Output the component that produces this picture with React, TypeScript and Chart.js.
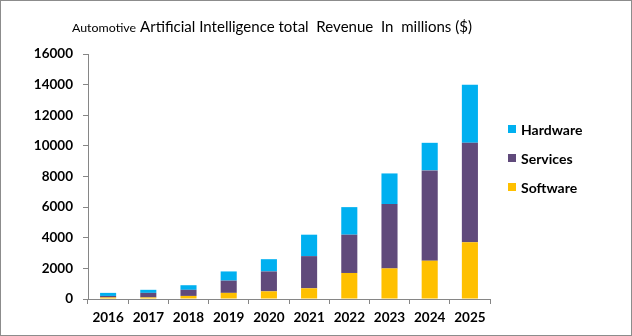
import React, { useEffect, useRef } from "react";
import { Chart, registerables } from "chart.js";

Chart.register(...registerables);

const years = ["2016", "2017", "2018", "2019", "2020", "2021", "2022", "2023", "2024", "2025"];
const software = [100, 100, 200, 400, 500, 700, 1700, 2000, 2500, 3700];
const services = [100, 300, 400, 800, 1300, 2100, 2500, 4200, 5900, 6500];
const hardware = [200, 200, 300, 600, 800, 1400, 1800, 2000, 1800, 3800];
const yTicks = [0, 2000, 4000, 6000, 8000, 10000, 12000, 14000, 16000];
const titleSmall = "Automotive";
const titleLarge = "Artificial Intelligence total  Revenue  In  millions ($)";

const FONT = "Lato, 'Open Sans', sans-serif";
const AXIS = "#868686";

function fitFont(ctx: CanvasRenderingContext2D, text: string, base: number, target: number, weight: string) {
  ctx.font = `${weight} ${base}px ${FONT}`;
  const w = ctx.measureText(text).width;
  const size = (base * target) / w;
  ctx.font = `${weight} ${size.toFixed(2)}px ${FONT}`;
}

const overlayPlugin = {
  id: "overlay",
  afterDraw(chart: any) {
    const ctx = chart.ctx as CanvasRenderingContext2D;
    ctx.save();
    ctx.fillStyle = "#000";
    ctx.textBaseline = "alphabetic";
    ctx.textAlign = "left";
    fitFont(ctx, titleSmall, 13, 64, "normal");
    ctx.fillText(titleSmall, 71, 31);
    fitFont(ctx, titleLarge, 19, 332, "normal");
    ctx.fillText(titleLarge, 139, 31);

    // legend (reverse order of stacking)
    const ds = chart.data.datasets.slice().reverse();
    ctx.textBaseline = "middle";
    ds.forEach((d: any, i: number) => {
      const cy = 128 + i * 29;
      ctx.fillStyle = d.backgroundColor;
      ctx.fillRect(507, cy - 4, 8, 8);
      ctx.fillStyle = "#000";
      ctx.font = `bold 14px ${FONT}`;
      ctx.fillText(d.label, 520, cy + 1);
    });
    ctx.restore();
  },
};

export default function App() {
  const ref = useRef<HTMLCanvasElement | null>(null);
  useEffect(() => {
    if (!ref.current) return;
    const chart = new Chart(ref.current, {
      type: "bar",
      data: {
        labels: years,
        datasets: [
          { label: "Software", data: software, backgroundColor: "#FFC000" },
          { label: "Services", data: services, backgroundColor: "#604A7B" },
          { label: "Hardware", data: hardware, backgroundColor: "#00B0F0" },
        ],
      },
      options: {
        animation: false,
        responsive: false,
        maintainAspectRatio: false,
        layout: { padding: { top: 53, right: 141, left: 0, bottom: 0 } },
        datasets: { bar: { barPercentage: 0.4, categoryPercentage: 1 } },
        plugins: {
          legend: { display: false },
          title: { display: false },
          tooltip: { enabled: false },
        },
        scales: {
          x: {
            stacked: true,
            afterFit: (s: any) => {
              s.height = 36;
            },
            grid: {
              display: true,
              drawOnChartArea: false,
              drawTicks: true,
              tickLength: 5,
              color: AXIS,
              offset: true,
            },
            border: { display: true, color: AXIS, width: 1 },
            ticks: {
              color: "#000",
              padding: 6,
              font: { family: FONT, size: 13.5, weight: "bold" },
              maxRotation: 0,
            },
          },
          y: {
            stacked: true,
            min: 0,
            max: 16000,
            afterFit: (s: any) => {
              s.width = 87;
            },
            afterBuildTicks: (s: any) => {
              s.ticks = yTicks.map((v) => ({ value: v }));
            },
            grid: {
              display: true,
              drawOnChartArea: false,
              drawTicks: true,
              tickLength: 5,
              color: AXIS,
            },
            border: { display: true, color: AXIS, width: 1 },
            ticks: {
              color: "#000",
              padding: 10,
              font: { family: FONT, size: 13.5, weight: "bold" },
              callback: (v: any) => String(v),
            },
          },
        },
      },
      plugins: [overlayPlugin],
    });
    return () => chart.destroy();
  }, []);

  return (
    <div
      style={{
        position: "absolute",
        left: 0,
        top: 0,
        width: 632,
        height: 336,
        boxSizing: "border-box",
        border: "1px solid #8c8c8c",
        background: "#fff",
      }}
    >
      <canvas ref={ref} width={630} height={334} style={{ display: "block", width: 630, height: 334 }} />
    </div>
  );
}
